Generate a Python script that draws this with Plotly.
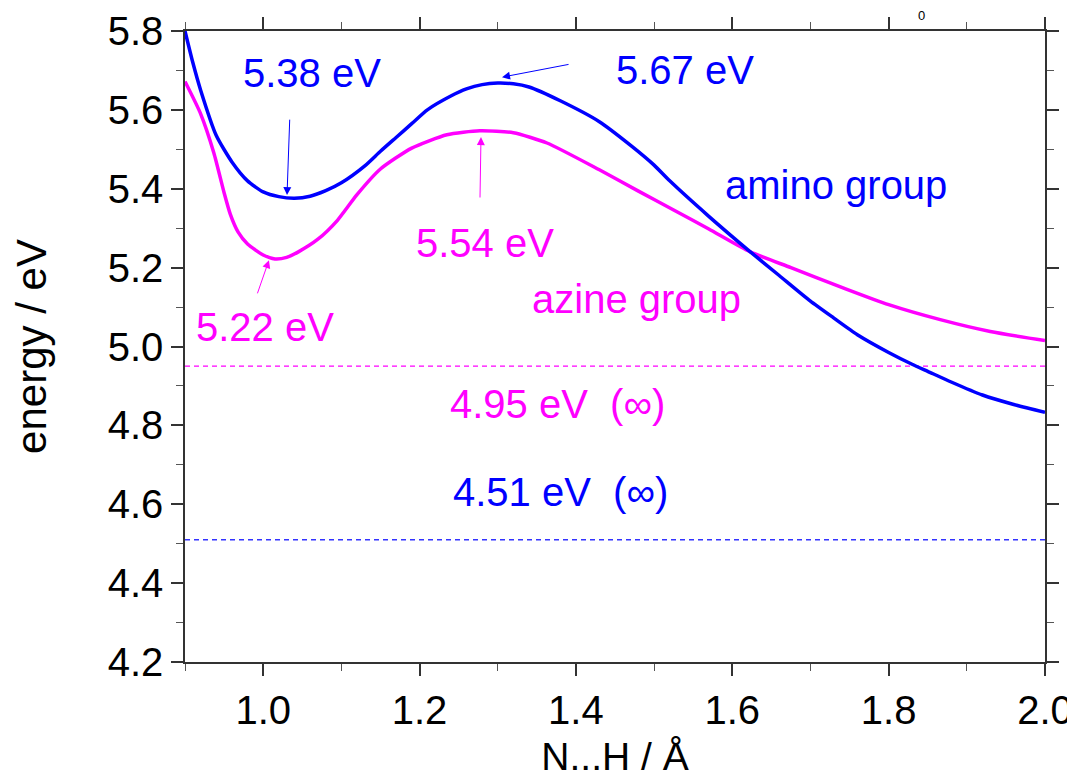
import plotly.graph_objects as go

# N...H distance (Å) and energy (eV)
amino_x = [0.90, 0.91, 0.92, 0.94, 0.96, 0.98, 1.00, 1.02, 1.04, 1.06, 1.08, 1.10,
           1.13, 1.15, 1.17, 1.19, 1.21, 1.24, 1.26, 1.28, 1.30, 1.32, 1.34, 1.38,
           1.43, 1.47, 1.50, 1.52, 1.57, 1.62, 1.66, 1.70, 1.73, 1.76, 1.80, 1.83,
           1.85, 1.88, 1.92, 1.96, 2.00]
amino_y = [5.80, 5.72, 5.65, 5.535, 5.468, 5.42, 5.392, 5.38, 5.376, 5.381, 5.395, 5.415,
           5.458, 5.495, 5.53, 5.565, 5.60, 5.635, 5.653, 5.664, 5.668, 5.666, 5.658, 5.623,
           5.57, 5.51, 5.46, 5.42, 5.33, 5.245, 5.18, 5.115, 5.072, 5.03, 4.985, 4.955,
           4.937, 4.91, 4.877, 4.853, 4.833]

azine_x = [0.90, 0.92, 0.937, 0.95, 0.958, 0.968, 0.98, 1.00, 1.015, 1.03, 1.045, 1.07,
           1.095, 1.12, 1.15, 1.19, 1.235, 1.277, 1.32, 1.363, 1.43, 1.48, 1.525, 1.57,
           1.623, 1.675, 1.74, 1.80, 1.866, 1.93, 2.00]
azine_y = [5.672, 5.59, 5.49, 5.39, 5.335, 5.29, 5.26, 5.232, 5.222, 5.226, 5.24, 5.272,
           5.32, 5.385, 5.45, 5.503, 5.537, 5.547, 5.542, 5.516, 5.448, 5.394, 5.346, 5.298,
           5.24, 5.20, 5.15, 5.106, 5.068, 5.038, 5.015]

# asymptotic (infinite separation) energies
x_span = [0.9, 2.0]
azine_inf = 4.95
amino_inf = 4.51

BLUE = "#0000ff"
MAGENTA = "#ff00ff"
FONT = "Liberation Sans, Arial, sans-serif"

fig = go.Figure()

fig.add_trace(go.Scatter(x=x_span, y=[azine_inf, azine_inf], mode="lines",
                         line=dict(color=MAGENTA, width=1.2, dash="5px,4px"),
                         showlegend=False, hoverinfo="skip"))
fig.add_trace(go.Scatter(x=x_span, y=[amino_inf, amino_inf], mode="lines",
                         line=dict(color="#3333ff", width=1.3, dash="5px,4px"),
                         showlegend=False, hoverinfo="skip"))

fig.add_trace(go.Scatter(x=azine_x, y=azine_y, mode="lines", name="azine group",
                         line=dict(color=MAGENTA, width=3.5, shape="spline", smoothing=0.6),
                         showlegend=False))
fig.add_trace(go.Scatter(x=amino_x, y=amino_y, mode="lines", name="amino group",
                         line=dict(color=BLUE, width=3.5, shape="spline", smoothing=0.6),
                         showlegend=False))

# text labels
labels = [
    ("5.38 eV", 1.0625, 5.694, BLUE),
    ("5.67 eV", 1.5396, 5.70, BLUE),
    ("5.54 eV", 1.2837, 5.263, MAGENTA),
    ("5.22 eV", 1.0023, 5.05, MAGENTA),
    ("amino group", 1.7327, 5.41, BLUE),
    ("azine group", 1.478, 5.121, MAGENTA),
    ("4.95 eV  (∞)", 1.377, 4.855, MAGENTA),
    ("4.51 eV  (∞)", 1.38, 4.632, BLUE),
]
for txt, lx, ly, col in labels:
    fig.add_annotation(x=lx, y=ly, text=txt, showarrow=False,
                       font=dict(size=40, color=col, family=FONT))

# arrows pointing at the extrema: (head x, head y, tail x, tail y, colour)
arrows = [
    (1.0305, 5.384, 1.034, 5.579, BLUE),
    (1.3055, 5.683, 1.3925, 5.716, BLUE),
    (1.2786, 5.531, 1.2773, 5.374, MAGENTA),
    (1.0074, 5.219, 0.992, 5.131, MAGENTA),
]
for hx, hy, tx, ty, col in arrows:
    fig.add_annotation(x=hx, y=hy, ax=tx, ay=ty, axref="x", ayref="y",
                       text="", showarrow=True, arrowhead=2, arrowsize=1.6,
                       arrowwidth=1, arrowcolor=col)

# subscript left over from the original figure title (mostly cut off in the source)
fig.add_annotation(x=0.8628, y=1.0, xref="paper", yref="paper", yanchor="bottom",
                   yshift=6, text="0", showarrow=False,
                   font=dict(size=13, color="black", family=FONT))

axis_common = dict(
    showline=True, linecolor="#333333", linewidth=1.5,
    mirror="ticks", ticks="outside", ticklen=12, tickwidth=1.5, tickcolor="#333333",
    showgrid=False, zeroline=False, tickformat=".1f", automargin=False,
    tickfont=dict(size=40, color="black", family=FONT),
    minor=dict(ticks="outside", ticklen=7, tickwidth=1, tickcolor="#555555", dtick=0.1),
)

fig.update_xaxes(range=[0.9, 2.0], tick0=0.0, dtick=0.2,
                 title=dict(text="N...H / Å", standoff=12,
                            font=dict(size=39, color="black", family=FONT)),
                 **axis_common)
fig.update_yaxes(range=[4.2, 5.8], tick0=4.2, dtick=0.2,
                 title=dict(text="energy / eV", standoff=58,
                            font=dict(size=42, color="black", family=FONT)),
                 **axis_common)

# the page body adds an 8px offset, so margins are compensated for it
fig.update_layout(
    width=1075, height=780,
    margin=dict(l=177, r=38, t=23, b=126),
    paper_bgcolor="white", plot_bgcolor="white",
    font=dict(family=FONT),
)

fig.write_html("out.html")
